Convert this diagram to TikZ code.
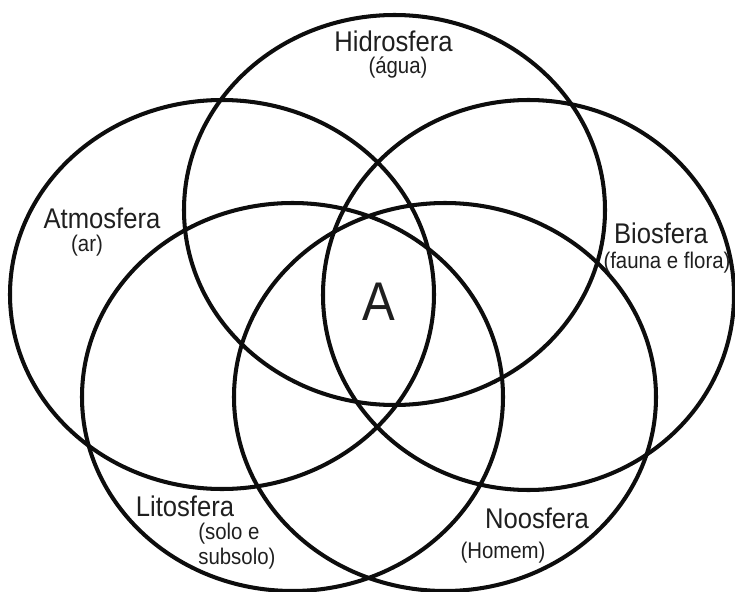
\documentclass[tikz,border=0pt]{standalone}
\usepackage{fontspec}
\setmainfont{Liberation Sans}[FakeStretch=0.9]
\definecolor{ringcol}{gray}{0.05}
\definecolor{labcol}{gray}{0.12}
\tikzset{
  ring/.style={draw=ringcol,line width=2.3pt},
  sphere/.style={font=\fontsize{16.2}{18}\selectfont,text=labcol,inner sep=0pt},
  note/.style={font=\fontsize{12.9}{14.5}\selectfont,text=labcol,inner sep=0pt},
  core/.style={font=\fontsize{31}{34}\selectfont,text=labcol,inner sep=0pt},
}
\begin{document}
\begin{tikzpicture}[x=0.02cm,y=0.02cm]
  \useasboundingbox (0,0) rectangle (735,-592);
  % the five spheres
  \draw[ring] (394.5,-210) ellipse (210.5 and 195);
  \draw[ring] (222,-294.5) ellipse (212 and 194.5);
  \draw[ring] (528.5,-295) ellipse (205.5 and 195);
  \draw[ring] (292.5,-397) ellipse (210.5 and 194);
  \draw[ring] (445,-397) ellipse (211 and 194);
  % labels
  \node[sphere] (hidro) at (393.5,-41) {Hidrosfera};
  \node[note] (agua) at (398,-68) {(água)};
  \node[sphere] (atmo) at (102,-218) {Atmosfera};
  \node[note] (ar) at (87,-246) {(ar)};
  \node[sphere] (bio) at (661,-233) {Biosfera};
  \node[note] (fauna) at (667,-263) {(fauna e flora)};
  \node[sphere] (lito) at (185,-506) {Litosfera};
  \node[note,align=left,anchor=west] (solo) at (198,-546) {(solo e\\subsolo)};
  \node[sphere] (noo) at (537,-518) {Noosfera};
  \node[note] (homem) at (503,-553) {(Homem)};
  \node[core] (a) at (379,-302) {A};
\end{tikzpicture}
\end{document}
